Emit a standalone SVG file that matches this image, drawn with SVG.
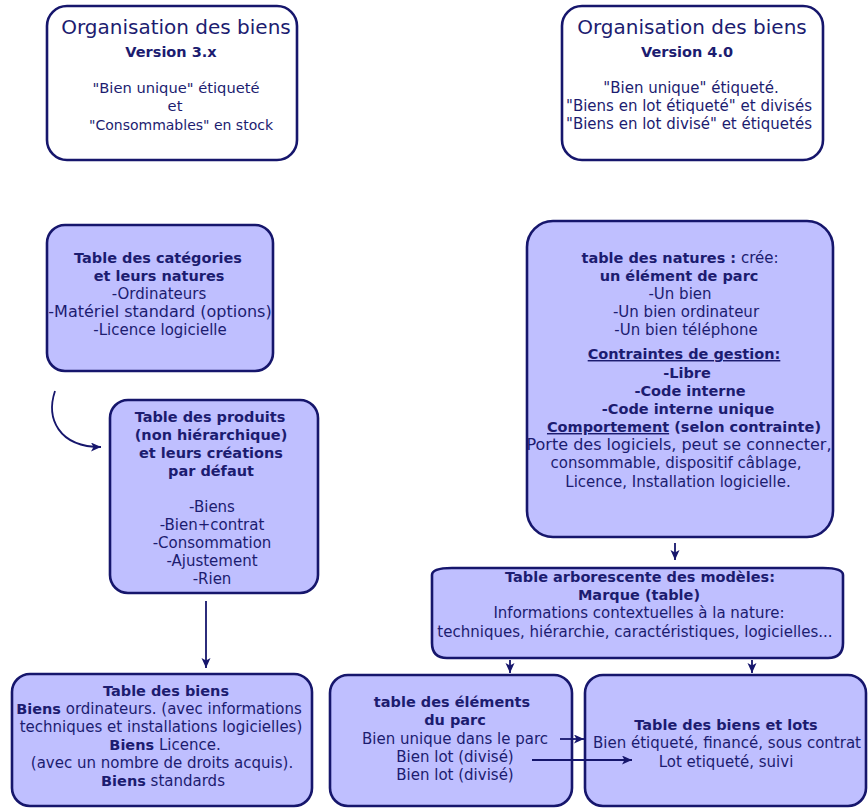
<svg xmlns="http://www.w3.org/2000/svg" width="868" height="809" viewBox="0 0 868 809">
<defs>
<style>
.box{fill:#bfbfff;stroke:#16166c;stroke-width:2.6}
.wbox{fill:#ffffff;stroke:#16166c;stroke-width:2.6}
text{font-family:"DejaVu Sans","Verdana",sans-serif;fill:#1c1c70;text-anchor:middle;font-size:15px}
.t{font-size:20px}
.b{font-weight:bold;font-size:14.5px}
.u{text-decoration:underline}
.c{fill:none;stroke:#16166c;stroke-width:1.8}
</style>
<marker id="ah" markerUnits="userSpaceOnUse" markerWidth="11" markerHeight="10" refX="10" refY="4.5" orient="auto">
<path d="M0,0 L10,4.5 L0,9 L2.5,4.5 z" fill="#16166c"/>
</marker>
</defs>
<rect width="868" height="809" fill="#ffffff"/>

<g id="org-v3">
<rect class="wbox" x="47" y="6" width="250" height="154" rx="20"/>
<text class="t" x="176" y="34">Organisation des biens</text>
<text class="b" x="171" y="57">Version 3.x</text>
<text x="176" y="93" style="font-size:14.7px">"Bien unique" étiqueté</text>
<text x="175" y="111" style="font-size:14.7px">et</text>
<text x="181" y="130" style="font-size:14px">"Consommables" en stock</text>
</g>

<g id="org-v4">
<rect class="wbox" x="562" y="6" width="261" height="154" rx="20"/>
<text class="t" x="692" y="34">Organisation des biens</text>
<text class="b" x="687" y="57">Version 4.0</text>
<text x="691" y="93">"Bien unique" étiqueté.</text>
<text x="689" y="111">"Biens en lot étiqueté" et divisés</text>
<text x="689" y="129">"Biens en lot divisé" et étiquetés</text>
</g>

<g id="categories">
<rect class="box" x="47" y="225" width="226" height="146" rx="18"/>
<text class="b" x="158" y="263">Table des catégories</text>
<text class="b" x="159" y="281">et leurs natures</text>
<text x="159" y="299">-Ordinateurs</text>
<text x="160" y="317" style="font-size:16px">-Matériel standard (options)</text>
<text x="160" y="335">-Licence logicielle</text>
</g>

<g id="produits">
<rect class="box" x="110" y="400" width="208" height="193" rx="18"/>
<text class="b" x="210" y="422">Table des produits</text>
<text class="b" x="211" y="440">(non hiérarchique)</text>
<text class="b" x="211" y="458">et leurs créations</text>
<text class="b" x="211" y="476">par défaut</text>
<text x="212" y="512">-Biens</text>
<text x="212" y="530">-Bien+contrat</text>
<text x="212" y="548">-Consommation</text>
<text x="212" y="566">-Ajustement</text>
<text x="212" y="584">-Rien</text>
</g>

<g id="natures">
<rect class="box" x="527" y="221" width="306" height="316" rx="26"/>
<text x="680" y="263"><tspan class="b">table des natures :</tspan> crée:</text>
<text class="b" x="679" y="281">un élément de parc</text>
<text x="680" y="299">-Un bien</text>
<text x="686" y="317">-Un bien ordinateur</text>
<text x="686" y="335">-Un bien téléphone</text>
<text class="b u" x="684" y="359">Contraintes de gestion:</text>
<text class="b" x="687" y="378">-Libre</text>
<text class="b" x="690" y="396">-Code interne</text>
<text class="b" x="688" y="414">-Code interne unique</text>
<text class="b" x="684" y="432"><tspan class="u">Comportement</tspan> (selon contrainte)</text>
<text x="679" y="450" style="font-size:16px">Porte des logiciels, peut se connecter,</text>
<text x="676" y="468">consommable, dispositif câblage,</text>
<text x="678" y="487">Licence, Installation logicielle.</text>
</g>

<g id="modeles">
<path class="box" d="M452,568 L823,568 Q843,568 843,575 L843,643 Q843,658 828,658 L447,658 Q432,658 432,643 L432,575 Q432,568 452,568 Z"/>
<text class="b" x="640" y="582">Table arborescente des modèles:</text>
<text class="b" x="639" y="600">Marque (table)</text>
<text x="639" y="618">Informations contextuelles à la nature:</text>
<text x="635" y="637">techniques, hiérarchie, caractéristiques, logicielles...</text>
</g>

<g id="biens">
<rect class="box" x="12" y="674" width="300" height="132" rx="18"/>
<text class="b" x="166" y="696">Table des biens</text>
<text x="159" y="714"><tspan class="b">Biens</tspan> ordinateurs. (avec informations</text>
<text x="161" y="732">techniques et installations logicielles)</text>
<text x="165" y="750"><tspan class="b">Biens</tspan> Licence.</text>
<text x="162" y="768">(avec un nombre de droits acquis).</text>
<text x="163" y="786"><tspan class="b">Biens</tspan> standards</text>
</g>

<g id="elements">
<rect class="box" x="330" y="675" width="242" height="131" rx="18"/>
<text class="b" x="452" y="707">table des éléments</text>
<text class="b" x="455" y="725">du parc</text>
<text x="455" y="744">Bien unique dans le parc</text>
<text x="455" y="762">Bien lot (divisé)</text>
<text x="455" y="780">Bien lot (divisé)</text>
</g>

<g id="biens-lots">
<rect class="box" x="585" y="675" width="281" height="131" rx="18"/>
<text class="b" x="726" y="730">Table des biens et lots</text>
<text x="727" y="748">Bien étiqueté, financé, sous contrat</text>
<text x="726" y="767">Lot etiqueté, suivi</text>
</g>

<g id="connectors">
<path class="c" d="M55,391 C46,418 58,447 101,447" marker-end="url(#ah)"/>
<path class="c" d="M206,601 L206,668" marker-end="url(#ah)"/>
<path class="c" d="M675,543 L675,560" marker-end="url(#ah)"/>
<path class="c" d="M510,660 L510,673" marker-end="url(#ah)"/>
<path class="c" d="M752,660 L752,673" marker-end="url(#ah)"/>
<path class="c" d="M560,739 L584,739" marker-end="url(#ah)"/>
<path class="c" d="M532,760 L632,760" marker-end="url(#ah)"/>
</g>
</svg>
